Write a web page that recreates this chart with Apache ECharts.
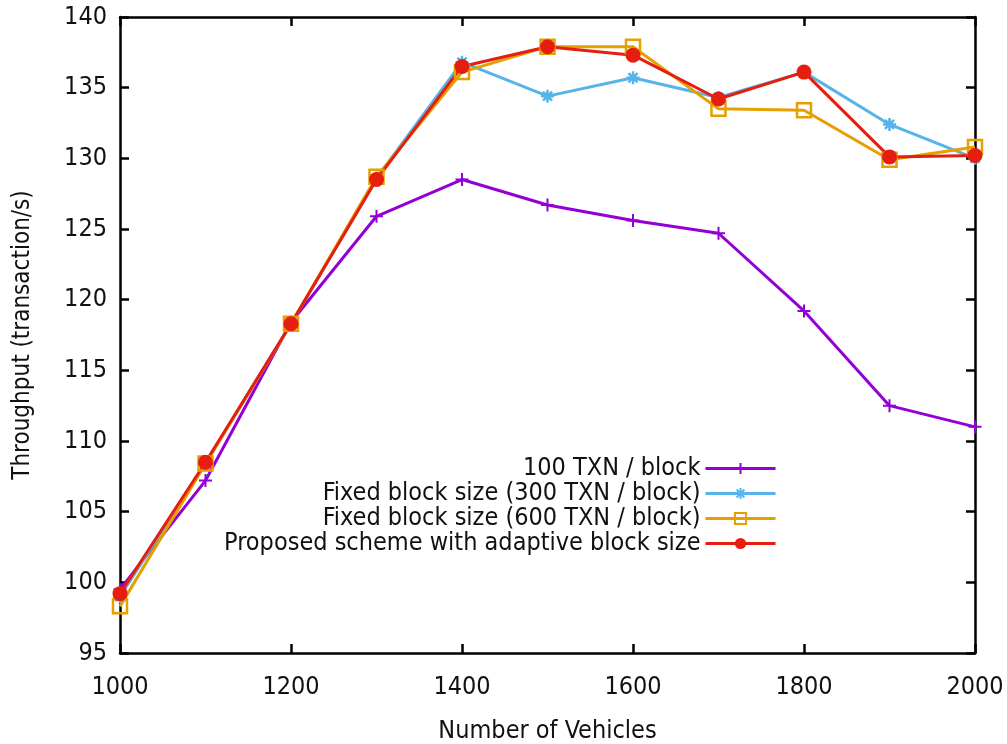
<!DOCTYPE html>
<html>
<head>
<meta charset="utf-8">
<script src="https://cdn.jsdelivr.net/npm/echarts@6/dist/echarts.min.js"></script>
<style>html,body{margin:0;padding:0;background:#fff}#c{width:1007px;height:744px}</style>
</head>
<body>
<div id="c"></div>
<script>
const vehicles = [1000, 1100, 1200, 1300, 1400, 1500, 1600, 1700, 1800, 1900, 2000];
const txn100 = [99.5, 107.2, 118.4, 125.9, 128.5, 126.7, 125.6, 124.7, 119.2, 112.5, 111.0];
const fixed300 = [99.0, 108.4, 118.3, 128.6, 136.8, 134.4, 135.7, 134.3, 136.1, 132.4, 130.0];
const fixed600 = [98.3, 108.4, 118.3, 128.7, 136.1, 137.9, 137.9, 133.5, 133.4, 129.9, 130.8];
const adaptive = [99.2, 108.5, 118.3, 128.5, 136.5, 137.9, 137.3, 134.2, 136.1, 130.1, 130.2];
const seriesNames = ['100 TXN / block', 'Fixed block size (300 TXN / block)', 'Fixed block size (600 TXN / block)', 'Proposed scheme with adaptive block size'];
const xTicks = {min: 1000, max: 2000, interval: 200};
const yTicks = {min: 95, max: 140, interval: 5};

const FONT = '"DejaVu Sans Condensed", "DejaVu Sans", sans-serif';
const pair = a => vehicles.map((v, i) => [v, a[i]]);
const plusPath = 'path://M0,-10 L0,10 M-10,0 L10,0';
const starPath = 'path://M0,-10 L0,10 M-10,0 L10,0 M-7,-7 L7,7 M-7,7 L7,-7';

function mkSeries(name, data, color, symbol, size, fill, bw) {
  return {
    name, type: 'line', data: pair(data), color,
    symbol, symbolSize: size, showSymbol: true,
    lineStyle: {color, width: 3},
    itemStyle: {color: fill, borderColor: color, borderWidth: bw},
    emphasis: {disabled: true}, animation: false, z: 3
  };
}

const axisCommon = {
  axisLine: {show: true, onZero: false, lineStyle: {color: '#000', width: 2.5}},
  axisTick: {show: true, inside: true, length: 9, lineStyle: {color: '#000', width: 2.5}},
  splitLine: {show: false}
};

const chart = echarts.init(document.getElementById('c'));
chart.setOption({
  backgroundColor: '#fff',
  textStyle: {fontFamily: FONT},
  grid: {left: 120, right: 32, top: 17, bottom: 91, outerBoundsMode: 'none', containLabel: false},
  xAxis: [
    Object.assign({type: 'value', position: 'bottom', min: xTicks.min, max: xTicks.max, interval: xTicks.interval,
      name: 'Number of Vehicles', nameLocation: 'middle', nameGap: 66,
      nameTextStyle: {fontSize: 25, color: '#111', fontFamily: FONT},
      axisLabel: {fontSize: 25, color: '#111', margin: 22, fontFamily: FONT, formatter: v => String(v)}}, axisCommon),
    Object.assign({type: 'value', position: 'top', min: xTicks.min, max: xTicks.max, interval: xTicks.interval,
      axisLabel: {show: false}}, axisCommon)
  ],
  yAxis: [
    Object.assign({type: 'value', position: 'left', min: yTicks.min, max: yTicks.max, interval: yTicks.interval,
      name: 'Throughput (transaction/s)', nameLocation: 'middle', nameGap: 85, nameRotate: 90,
      nameTextStyle: {fontSize: 24, color: '#111', fontFamily: FONT},
      axisLabel: {fontSize: 25, color: '#111', margin: 13, fontFamily: FONT}}, axisCommon),
    Object.assign({type: 'value', position: 'right', min: yTicks.min, max: yTicks.max, interval: yTicks.interval,
      axisLabel: {show: false}}, axisCommon)
  ],
  legend: {
    orient: 'vertical', right: 225, top: 451, align: 'right',
    itemWidth: 70, itemHeight: 14, itemGap: 0,
    lineStyle: {width: 3},
    textStyle: {fontSize: 25, lineHeight: 23, color: '#111', fontFamily: FONT},
    data: seriesNames
  },
  series: [
    mkSeries(seriesNames[0], txn100, '#9400D3', plusPath, 13, '#9400D3', 2),
    mkSeries(seriesNames[1], fixed300, '#56B4E9', starPath, 13, '#56B4E9', 2.5),
    mkSeries(seriesNames[2], fixed600, '#E69F00', 'rect', 14, 'rgba(255,255,255,0)', 2.5),
    mkSeries(seriesNames[3], adaptive, '#E51E10', 'circle', 15, '#E51E10', 0)
  ]
});
</script>
</body>
</html>
